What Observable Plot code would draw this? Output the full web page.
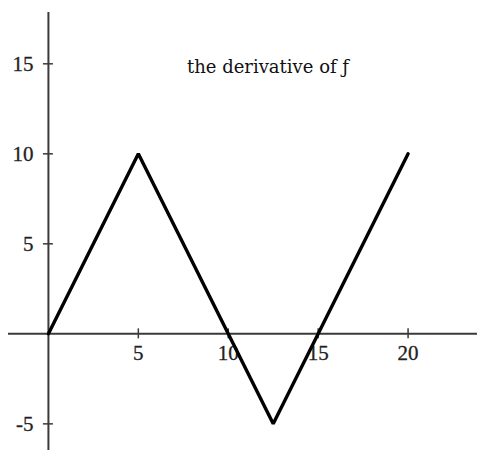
<!DOCTYPE html>
<html><head><meta charset="utf-8">
<script src="https://cdn.jsdelivr.net/npm/d3@7"></script>
<script src="https://cdn.jsdelivr.net/npm/@observablehq/plot@0.6"></script>
<style>html,body{margin:0;padding:0;background:#fff;}</style>
</head><body><div id="chart"></div>
<script>
const xs = [0, 5, 12.5, 20];
const ys = [0, 10, -5, 10];
const xTicks = [5, 10, 15, 20];
const yTicks = [15, 10, 5, -5];
const title = "the derivative of ƒ";

const pts = xs.map((x, i) => ({x, y: ys[i]}));
const tickHalfX = 5 / 18; // 5px in data units
const tickHalfY = 5 / 18;

const chart = Plot.plot({
  width: 477, height: 450,
  marginLeft: 8, marginRight: 0, marginTop: 12, marginBottom: 0,
  x: {domain: [-2.22, 23.86], axis: null},
  y: {domain: [-6.48, 17.85], axis: null},
  style: {fontFamily: "Liberation Serif", background: "#fff"},
  marks: [
    Plot.ruleY([0], {stroke: "#3a3a3a", strokeWidth: 2}),
    Plot.ruleX([0], {stroke: "#3a3a3a", strokeWidth: 2}),
    Plot.ruleX(xTicks, {x: d => d, y1: -tickHalfY, y2: tickHalfY, stroke: "#3a3a3a", strokeWidth: 1.5}),
    Plot.ruleY(yTicks, {y: d => d, x1: -tickHalfX, x2: tickHalfX, stroke: "#3a3a3a", strokeWidth: 1.5}),
    Plot.text(xTicks, {x: d => d, y: 0, text: d => String(d), dy: 19.5, fontSize: 21, fill: "#222", stroke: "#222", strokeWidth: 0.3}),
    Plot.text(yTicks, {x: 0, y: d => d, text: d => String(d), dx: -15, textAnchor: "end", fontSize: 21, fill: "#222", stroke: "#222", strokeWidth: 0.3}),
    Plot.line(pts, {x: "x", y: "y", stroke: "#000", strokeWidth: 3.4, strokeLinejoin: "miter"}),
    Plot.text([title], {frameAnchor: "top", text: d => d, dx: 25, dy: 48, fontSize: 18, fontFamily: "DejaVu Serif", fill: "#111"})
  ]
});
document.getElementById("chart").appendChild(chart);
</script>
</body></html>
